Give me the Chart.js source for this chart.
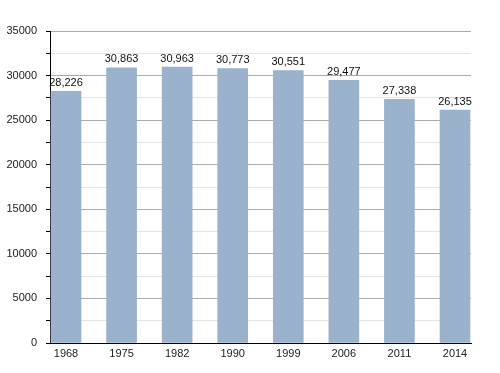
<!DOCTYPE html>
<html>
<head>
<meta charset="utf-8">
<script src="https://cdn.jsdelivr.net/npm/chart.js@4/dist/chart.umd.min.js"></script>
<style>
html,body{margin:0;padding:0;background:#fff;}
#wrap{width:500px;height:373px;}
</style>
</head>
<body>
<div id="wrap"><canvas id="c" width="500" height="373"></canvas></div>
<script>
const years = ["1968","1975","1982","1990","1999","2006","2011","2014"];
const population = [28226, 30863, 30963, 30773, 30551, 29477, 27338, 26135];
const yTicks = [0, 5000, 10000, 15000, 20000, 25000, 30000, 35000];

const FONT = "'Liberation Sans', Arial, Helvetica, sans-serif";

const labelPlugin = {
  id: 'valueLabels',
  afterDatasetsDraw(chart) {
    const ctx = chart.ctx;
    const meta = chart.getDatasetMeta(0);
    ctx.save();
    ctx.font = "11px " + FONT;
    ctx.fillStyle = "#111";
    ctx.textAlign = "center";
    ctx.textBaseline = "bottom";
    meta.data.forEach((bar, i) => {
      ctx.fillText(population[i].toLocaleString('en-US'), bar.x, bar.y - 3);
    });
    ctx.restore();
  }
};

new Chart(document.getElementById('c'), {
  type: 'bar',
  data: {
    datasets: [{
      data: population.map((v, i) => ({x: i, y: v})),
      backgroundColor: '#9ab2cb',
      borderWidth: 0,
      barThickness: 30
    }]
  },
  options: {
    responsive: false,
    animation: false,
    events: [],
    layout: {padding: {top: 31, right: 29, left: 0, bottom: 0}},
    plugins: {legend: {display: false}, tooltip: {enabled: false}},
    scales: {
      x: {
        type: 'linear',
        offset: false,
        min: -0.288,
        max: 7.288,
        afterFit: s => { s.height = 30; },
        grid: {display: false, drawTicks: false, offset: false},
        border: {display: true, color: '#000', width: 1},
        ticks: {
          stepSize: 1,
          includeBounds: false,
          autoSkip: false,
          maxRotation: 0,
          padding: 4,
          color: '#222',
          font: {family: FONT, size: 11},
          callback: v => (Number.isInteger(v) && years[v] !== undefined) ? years[v] : ''
        }
      },
      y: {
        min: 0,
        max: 35000,
        afterFit: s => { s.width = 50; },
        border: {display: true, color: '#000', width: 1},
        grid: {
          color: c => (c.tick && c.tick.value % 5000 === 0) ? '#ababab' : '#e4e4e4',
          tickColor: '#000',
          tickLength: 4,
          drawTicks: true
        },
        ticks: {
          stepSize: 2500,
          autoSkip: false,
          padding: 9,
          color: '#222',
          font: {family: FONT, size: 11},
          callback: v => yTicks.includes(v) ? String(v) : ''
        }
      }
    }
  },
  plugins: [labelPlugin]
});
</script>
</body>
</html>
